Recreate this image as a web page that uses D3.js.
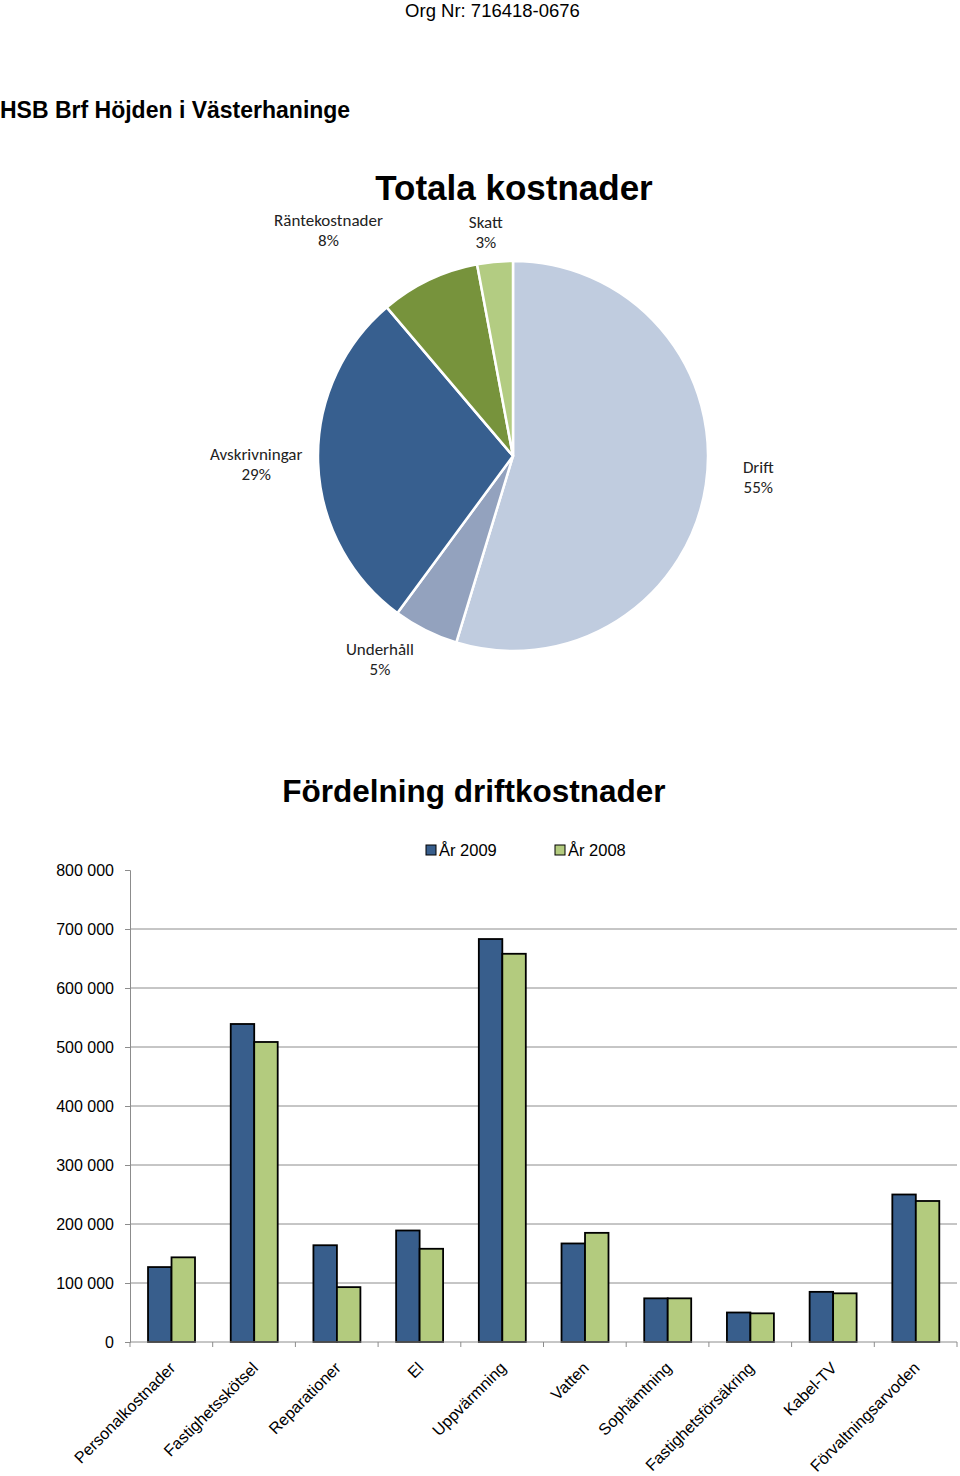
<!DOCTYPE html>
<html><head><meta charset="utf-8">
<script src="https://cdn.jsdelivr.net/npm/d3@7"></script>
<style>html,body{margin:0;padding:0;background:#fff;}svg{display:block;}</style>
</head><body>
<svg id="c" width="960" height="1476"></svg>
<script>
// ---- data ----
const orgText = "Org Nr: 716418-0676";
const docTitle = "HSB Brf Höjden i Västerhaninge";
const pieTitle = "Totala kostnader";
const pieNames = ["Drift", "Underhåll", "Avskrivningar", "Räntekostnader", "Skatt"];
const pieValues = [54.7, 5.4, 28.7, 8.25, 2.95];
const pieColors = ["#C0CCDF", "#93A2BE", "#375F8F", "#77933C", "#B3CC82"];

const barTitle = "Fördelning driftkostnader";
const categories = ["Personalkostnader", "Fastighetsskötsel", "Reparationer", "El", "Uppvärmning",
  "Vatten", "Sophämtning", "Fastighetsförsäkring", "Kabel-TV", "Förvaltningsarvoden"];
const seriesNames = ["År 2009", "År 2008"];
const values2009 = [127000, 539000, 164000, 189000, 683000, 167000, 74000, 50000, 85000, 250000];
const values2008 = [143500, 508500, 93000, 158000, 658000, 185000, 74000, 48600, 82500, 239000];
const seriesColors = ["#385E8C", "#B3CB7E"];
const yTicks = [0, 100000, 200000, 300000, 400000, 500000, 600000, 700000, 800000];

// ---- drawing ----
const svg = d3.select("#c");
const AR = "Liberation Sans, Arial, sans-serif";
const CAL = "Carlito, Lato, sans-serif";

svg.append("text").attr("x", 492.5).attr("y", 17).attr("text-anchor", "middle")
  .attr("font-family", AR).attr("font-size", 18.5).attr("fill", "#000").text(orgText);
svg.append("text").attr("x", 0).attr("y", 118).attr("font-family", AR).attr("font-weight", "bold")
  .attr("font-size", 23).attr("fill", "#000").text(docTitle);

// Pie
svg.append("text").attr("x", 514).attr("y", 200).attr("text-anchor", "middle")
  .attr("font-family", AR).attr("font-weight", "bold").attr("font-size", 35).text(pieTitle);

const cx = 513, cy = 456, R = 195;
const pieData = pieNames.map((n, i) => ({name: n, value: pieValues[i], color: pieColors[i]}));
const pie = d3.pie().sort(null).value(d => d.value);
const arcs = pie(pieData);
const arc = d3.arc().innerRadius(0).outerRadius(R);
const labelArc = d3.arc().innerRadius(250).outerRadius(250);
const gPie = svg.append("g").attr("transform", `translate(${cx},${cy})`);
gPie.selectAll("path").data(arcs).join("path")
  .attr("d", arc).attr("fill", d => d.data.color)
  .attr("stroke", "#fff").attr("stroke-width", 2.5).attr("stroke-linejoin", "round");

const labelNudge = {"Drift": [-2, -16], "Underhåll": [-21, -20], "Avskrivningar": [-7, -1],
  "Räntekostnader": [-77, 0], "Skatt": [-4, 25]};
const total = d3.sum(pieValues);
const lbl = gPie.selectAll("g.lbl").data(arcs).join("g").attr("class", "lbl")
  .attr("transform", d => {
    const c = labelArc.centroid(d), n = labelNudge[d.data.name];
    return `translate(${c[0] + n[0]},${c[1] + n[1]})`;
  });
lbl.append("text").attr("y", -4).attr("text-anchor", "middle").attr("font-family", CAL)
  .attr("font-size", 17).attr("fill", "#222").text(d => d.data.name);
lbl.append("text").attr("y", 16).attr("text-anchor", "middle").attr("font-family", CAL)
  .attr("font-size", 17).attr("fill", "#222").text(d => Math.round(d.data.value / total * 100) + "%");

// Bar chart
svg.append("text").attr("x", 474).attr("y", 802).attr("text-anchor", "middle")
  .attr("font-family", AR).attr("font-weight", "bold").attr("font-size", 31.5).text(barTitle);

const x0 = 130, x1 = 957, yTop = 870, yBot = 1342;
const y = d3.scaleLinear().domain([0, 800000]).range([yBot, yTop]);
const x = d3.scaleBand().domain(categories).range([x0, x1]).padding(0);
const bw = x.bandwidth();
const xs = d3.scaleBand().domain(seriesNames).range([bw * 0.218, bw * 0.786]).padding(0);

const loc = d3.formatLocale({decimal: ",", thousands: " ", grouping: [3], currency: ["", ""]});
const fmt = loc.format(",");

// gridlines
svg.append("g").selectAll("line").data(yTicks.filter(t => t > 0 && t < 800000)).join("line")
  .attr("x1", x0).attr("x2", x1).attr("y1", d => y(d)).attr("y2", d => y(d))
  .attr("stroke", "#8c8c8c").attr("stroke-width", 1);

const yAxis = svg.append("g").attr("transform", `translate(${x0},0)`)
  .call(d3.axisLeft(y).tickValues(yTicks).tickFormat(fmt).tickSize(5).tickPadding(11));
yAxis.select(".domain").attr("stroke", "#8c8c8c");
yAxis.selectAll(".tick line").attr("stroke", "#8c8c8c");
yAxis.selectAll("text").attr("font-family", AR).attr("font-size", 16).attr("fill", "#000");

// bars
const rows = categories.map((c, i) => ({cat: c, vals: [values2009[i], values2008[i]]}));
const gb = svg.append("g");
const grp = gb.selectAll("g").data(rows).join("g").attr("transform", d => `translate(${x(d.cat)},0)`);
grp.selectAll("rect").data(d => d.vals.map((v, j) => ({s: seriesNames[j], v, j}))).join("rect")
  .attr("x", d => xs(d.s)).attr("width", xs.bandwidth())
  .attr("y", d => y(d.v)).attr("height", d => yBot - y(d.v))
  .attr("fill", d => seriesColors[d.j]).attr("stroke", "#000").attr("stroke-width", 1.8);

// x axis
const xAxisG = svg.append("g").attr("transform", `translate(0,${yBot})`);
xAxisG.append("line").attr("x1", x0).attr("x2", x1).attr("stroke", "#8c8c8c");
xAxisG.selectAll("line.t").data(categories.concat(["__end"])).join("line").attr("class", "t")
  .attr("x1", (d, i) => x0 + i * bw).attr("x2", (d, i) => x0 + i * bw).attr("y1", 0).attr("y2", 5)
  .attr("stroke", "#8c8c8c");
xAxisG.selectAll("text").data(categories).join("text")
  .attr("transform", d => `translate(${x(d) + bw / 2 + 5},${27}) rotate(-45)`)
  .attr("text-anchor", "end").attr("font-family", AR).attr("font-size", 16.2).attr("fill", "#000")
  .text(d => d);

// legend
const lg = svg.append("g");
const legX = [426, 555];
seriesNames.forEach((s, i) => {
  lg.append("rect").attr("x", legX[i]).attr("y", 845).attr("width", 10).attr("height", 10)
    .attr("fill", seriesColors[i]).attr("stroke", "#000").attr("stroke-width", 1);
  lg.append("text").attr("x", legX[i] + 13).attr("y", 856).attr("font-family", AR)
    .attr("font-size", 16.5).attr("fill", "#000").text(s);
});
</script>
</body></html>
